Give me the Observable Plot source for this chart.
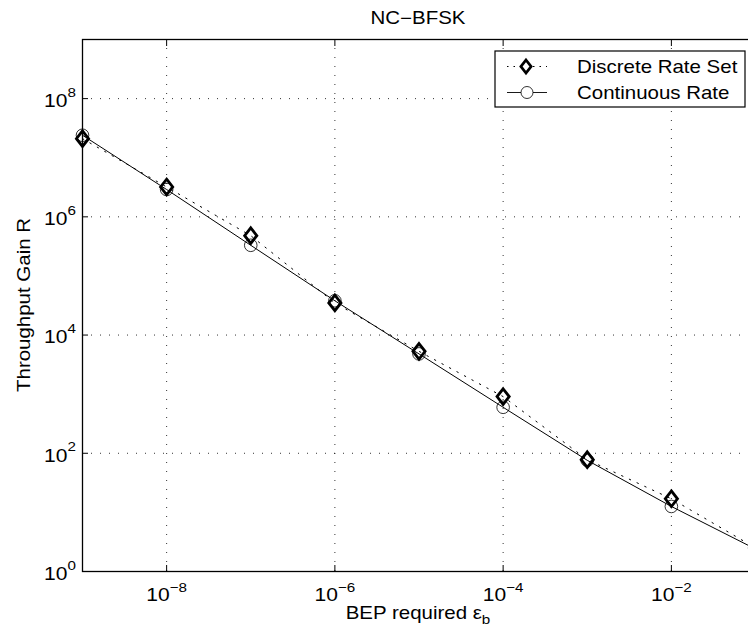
<!DOCTYPE html>
<html><head><meta charset="utf-8">
<script src="https://cdn.jsdelivr.net/npm/d3@7"></script>
<script src="https://cdn.jsdelivr.net/npm/@observablehq/plot@0.6"></script>
<style>
html,body{margin:0;padding:0;background:#fff;overflow:hidden;}
#chart{width:748px;height:641px;}
</style></head><body><div id="chart"></div>
<script>
// ---- data ----
const bep = [1e-9, 1e-8, 1e-7, 1e-6, 1e-5, 1e-4, 1e-3, 1e-2, 1e-1];
const discreteGain = [2.1e7, 3.2e6, 4.8e5, 3.5e4, 5.3e3, 910, 78, 17, 2.5];
const continuousGain = [2.4e7, 2.9e6, 3.3e5, 3.8e4, 4.8e3, 600, 76, 12.6, 2.4];
const xTicks = [1e-8, 1e-6, 1e-4, 1e-2];
const xTickExponents = ["−8", "−6", "−4", "−2"];
const yTicks = [1, 1e2, 1e4, 1e6, 1e8];
const yTickExponents = ["0", "2", "4", "6", "8"];
const tickBase = "10";
const titleText = "NC−BFSK";
const xLabelText = "BEP required ε";
const xLabelSub = "b";
const yLabelText = "Throughput Gain R";
const seriesNames = ["Discrete Rate Set", "Continuous Rate"];

const disc = bep.map((x, i) => ({x, y: discreteGain[i]}));
const cont = bep.map((x, i) => ({x, y: continuousGain[i]}));

const FONT = "'Liberation Sans', Arial, Helvetica, sans-serif";
const SX = 1.17;

const diamond = {
  draw(ctx, size) {
    const r = Math.sqrt(size / Math.PI), w = r * 0.78;
    ctx.moveTo(0, -r); ctx.lineTo(w, 0); ctx.lineTo(0, r); ctx.lineTo(-w, 0); ctx.closePath();
  }
};

const gridStyle = {stroke: "#000", strokeOpacity: 0.8, strokeWidth: 1, strokeDasharray: "1,8"};

const plot = Plot.plot({
  width: 748, height: 641,
  marginTop: 39, marginBottom: 70, marginLeft: 82, marginRight: -7,
  style: {fontFamily: FONT, fontSize: "18px", color: "#000", background: "#fff", overflow: "hidden"},
  x: {type: "log", domain: [1e-9, 1e-1]},
  y: {type: "log", domain: [1, 1e9]},
  marks: [
    Plot.ruleX(xTicks, gridStyle),
    Plot.ruleY(yTicks.slice(1), gridStyle),
    Plot.line(disc, {x: "x", y: "y", stroke: "#000", strokeWidth: 1, strokeDasharray: "1.5,7"}),
    Plot.line(cont, {x: "x", y: "y", stroke: "#000", strokeWidth: 1}),
    Plot.dot(cont, {x: "x", y: "y", r: 6.3, stroke: "#000", strokeWidth: 0.8, fill: "none"}),
    Plot.dot(disc, {x: "x", y: "y", r: 7.8, symbol: diamond, stroke: "#000", strokeWidth: 2.8, fill: "none"}),
    Plot.frame({stroke: "#000", strokeWidth: 1.3}),
    Plot.axisX({ticks: xTicks, anchor: "bottom", tickSize: -6, tickFormat: () => "", label: null}),
    Plot.axisX({ticks: xTicks, anchor: "top", tickSize: -6, tickFormat: () => "", label: null}),
    Plot.axisY({ticks: yTicks, anchor: "left", tickSize: -6, tickFormat: () => "", label: null}),
    Plot.axisY({ticks: yTicks, anchor: "right", tickSize: -6, tickFormat: () => "", label: null}),
    Plot.axisX({ticks: xTicks, anchor: "bottom", tickSize: 0, tickPadding: 17, tickFormat: () => tickBase,
      textAnchor: "end", dx: 3, fontSize: 18, label: null}),
    Plot.axisX({ticks: xTicks, anchor: "bottom", tickSize: 0, tickPadding: 11, tickFormat: d => xTickExponents[xTicks.indexOf(d)],
      textAnchor: "start", dx: 3, fontSize: 13, label: null}),
    Plot.axisY({ticks: yTicks, anchor: "left", tickSize: 0, tickPadding: 15, tickFormat: () => tickBase,
      textAnchor: "end", dy: 2.5, fontSize: 18, label: null}),
    Plot.axisY({ticks: yTicks, anchor: "left", tickSize: 0, tickPadding: 15, tickFormat: d => yTickExponents[yTicks.indexOf(d)],
      textAnchor: "start", dy: -6, fontSize: 13, label: null})
  ]
});
document.getElementById("chart").appendChild(plot);

const svg = d3.select(plot);
// widen tick label glyphs like the original font
svg.selectAll('g[aria-label$="tick label"] text').each(function() {
  const t = this.getAttribute("transform");
  if (t) this.setAttribute("transform", t + ` scale(${SX},1)`);
});

function addText(parent, x, y, str, anchor, size, rotate = 0) {
  return parent.append("text")
    .attr("transform", `translate(${x},${y}) rotate(${rotate}) scale(${SX},1)`)
    .attr("text-anchor", anchor)
    .attr("font-family", FONT)
    .attr("font-size", size)
    .attr("fill", "#000")
    .text(str);
}

// title
addText(svg, 418, 24, titleText, "middle", 17.5);
// x label with subscript
const xl = addText(svg, 418, 619, xLabelText, "middle", 17.5);
xl.append("tspan").attr("font-size", 13).attr("dy", 5).text(xLabelSub);
// y label
addText(svg, 29.5, 305, yLabelText, "middle", 17.5, -90);

// legend
const lg = svg.append("g");
lg.append("rect").attr("x", 495).attr("y", 51).attr("width", 250).attr("height", 56)
  .attr("fill", "#fff").attr("stroke", "#000").attr("stroke-width", 1.2);
lg.append("line").attr("x1", 507).attr("x2", 547).attr("y1", 66.5).attr("y2", 66.5)
  .attr("stroke", "#000").attr("stroke-dasharray", "1.5,5");
lg.append("path").attr("d", d3.symbol(diamond, Math.PI * 6.5 * 6.5)()).attr("transform", "translate(526,66.5)")
  .attr("fill", "#fff").attr("stroke", "#000").attr("stroke-width", 2.8);
lg.append("line").attr("x1", 507).attr("x2", 547).attr("y1", 92.5).attr("y2", 92.5)
  .attr("stroke", "#000").attr("stroke-width", 0.9);
lg.append("circle").attr("cx", 527).attr("cy", 92.5).attr("r", 6).attr("fill", "#fff")
  .attr("stroke", "#000").attr("stroke-width", 0.8);
addText(lg, 577, 73, seriesNames[0], "start", 17.5);
addText(lg, 577, 98.5, seriesNames[1], "start", 17.5);
</script>
</body></html>
